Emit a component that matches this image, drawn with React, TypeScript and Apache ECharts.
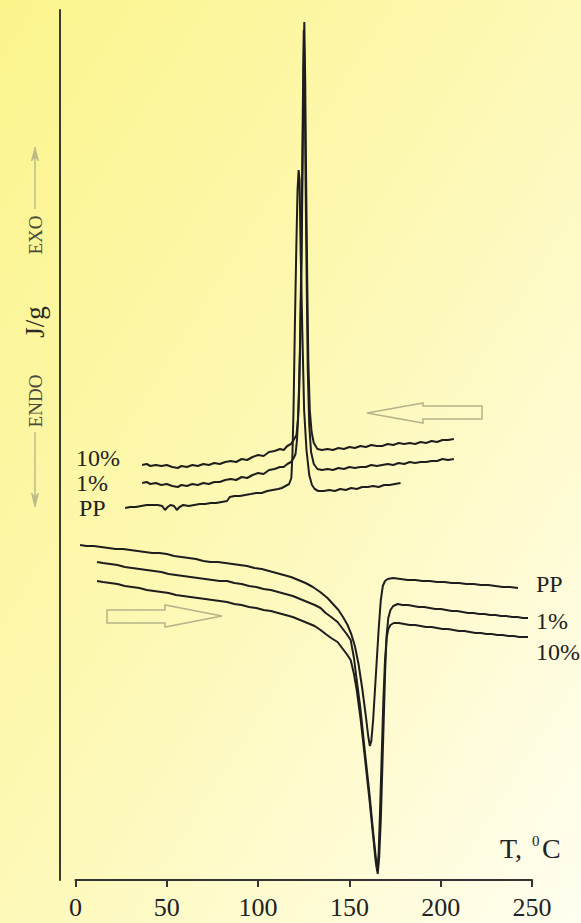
import React, { useEffect, useRef } from "react";
import * as echarts from "echarts";

// Temperature axis ticks (°C)
const tempTicks = [0, 50, 100, 150, 200, 250];

// Cooling runs (crystallisation exotherms), [T °C, heat flow a.u.]
const cool10: number[][] = [[36.5,415],[39,416],[41,414],[44,415],[47,414],[50,415],[53,413],[56,412],[58,414],[61,413],[64,415],[67,414],[70,416],[73,415],[76,417],[79,416],[82,418],[85,419],[88,418],[91,421],[94,420],[97,423],[100,425],[103,424],[106,428],[109,429],[112,431],[114,430],[116,434],[118,436],[119.5,440],[121,445],[121.8,460],[122.5,490],[123.2,550],[123.8,620],[124.4,720],[124.9,810],[125.3,858],[125.8,800],[126.3,700],[126.9,600],[127.5,520],[128.3,470],[129.3,448],[130.5,437],[132.5,431],[135,430],[138,431],[141,430],[144,432],[147,431],[150,433],[153,432],[156,434],[159,433],[162,435],[165,434],[168,434],[171,436],[174,435],[177,437],[180,436],[183,437],[186,436],[189,438],[192,437],[195,439],[198,438],[201,440],[204,440],[207.2,441]];
const cool1: number[][] = [[36.5,397],[39,398],[41,396],[44,397],[47,395],[50,396],[53,394],[56,393],[58,395],[61,394],[64,396],[67,395],[70,397],[73,396],[76,398],[79,398],[82,400],[85,401],[88,400],[91,403],[94,402],[97,405],[100,407],[103,406],[106,410],[109,411],[112,413],[114,413],[116,416],[118,418],[119.5,422],[120.5,426],[121.3,440],[122.1,470],[122.9,530],[123.5,600],[124.1,700],[124.6,790],[125,850],[125.5,800],[126,700],[126.6,600],[127.2,510],[128,455],[129,428],[130.5,416],[132.5,411],[135,410],[138,411],[141,410],[144,412],[147,411],[150,413],[153,412],[156,413],[159,413],[162,415],[165,414],[168,415],[171,416],[174,415],[177,417],[180,416],[183,418],[186,417],[189,418],[192,418],[195,419],[198,419],[201,421],[204,420],[207.2,421]];
const coolPP: number[][] = [[27.2,372],[30,373],[33,373],[36,374],[39,375],[42,375],[45,375],[47.5,374],[49,370],[50.5,373],[52,375],[54,374],[55.5,370],[57,373],[59,375],[62,374],[65,375],[68,376],[71,376],[74,377],[77,377],[80,378],[83,379],[84.5,383],[87,384],[90,384],[93,385],[96,386],[99,387],[102,387],[105,389],[108,390],[111,391],[113,392],[115,394],[117,396],[118.2,402],[118.8,425],[119.4,470],[120.1,550],[120.9,630],[121.6,690],[122.2,710],[122.7,700],[123.3,630],[124.2,550],[125.2,470],[126.5,430],[128,405],[129.5,395],[131,391],[133,389],[136,389],[139,390],[142,389],[145,391],[148,390],[151,392],[154,391],[157,393],[160,393],[163,394],[166,393],[169,395],[172,395],[175,396],[178,397]];

// Heating runs (melting endotherms)
const heatPP: number[][] = [[2.5,335],[6,334],[10,334],[14,333],[18,332],[22,331],[26,331],[30,330],[34,329],[38,328],[42,327],[46,327],[50,326],[54,324],[58,323],[62,322],[66,321],[70,319],[74,318],[78,318],[82,317],[86,316],[90,315],[94,314],[98,312],[102,311],[106,309],[110,307],[114,305],[118,303],[122,300],[126,297],[130,293],[134,288],[138,282],[141,276],[144,270],[146.5,263],[149,255],[151,246],[153,234],[155,216],[157,192],[159,164],[160.3,144],[161.2,134],[162,139],[163,160],[164.5,205],[166,250],[167.2,280],[168.3,294],[169.5,299],[171,301],[174,302],[178,301],[182,300],[186,300],[190,299],[194,299],[198,298],[202,298],[206,297],[210,297],[214,296],[218,296],[222,295],[226,295],[230,294],[234,293],[238,293],[242.3,292]];
const heat1: number[][] = [[11.8,318],[15,317],[19,316],[23,315],[27,313],[31,312],[35,311],[39,310],[43,309],[47,308],[51,306],[55,305],[59,304],[63,303],[67,302],[71,301],[75,300],[79,299],[83,299],[87,297],[91,296],[95,294],[99,293],[103,291],[107,290],[111,288],[115,286],[119,284],[123,281],[127,278],[131,275],[134.2,272],[137,267],[140,263],[143.5,258],[146,252],[148.5,246],[150.7,240],[152.5,222],[154,200],[156,172],[158.5,128],[161,86],[163,48],[164.5,22],[165.5,6],[166.3,22],[167.2,60],[168,110],[168.8,160],[169.6,210],[170.4,245],[171.3,262],[172.5,270],[174,274],[176.5,276],[179,275],[182,275],[185,274],[188,273],[191,273],[194,272],[197,271],[200,271],[203,270],[206,269],[209,269],[212,268],[215,267],[218,267],[221,266],[224,266],[227,265],[230,265],[233,264],[236,264],[239,263],[242,263],[245,262],[247.8,262]];
const heat10: number[][] = [[11.8,299],[15,298],[19,297],[23,296],[27,294],[31,293],[35,292],[39,290],[43,289],[47,288],[51,287],[55,285],[59,284],[63,283],[67,282],[71,281],[75,280],[79,279],[83,278],[87,276],[91,275],[95,273],[99,272],[103,270],[107,269],[111,267],[115,265],[119,263],[123,260],[127,257],[131,254],[134.2,250],[137,246],[140,242],[143.5,238],[146,232],[148.5,226],[150.7,220],[152.5,206],[154,190],[156,163],[158.5,122],[161,80],[163,44],[164.3,20],[165.2,9],[166,26],[166.8,70],[167.7,125],[168.6,180],[169.5,220],[170.4,242],[171.3,251],[172.5,255],[174.3,257],[177,257],[180,256],[183,255],[186,255],[189,254],[192,253],[195,253],[198,252],[201,251],[204,251],[207,250],[210,249],[213,249],[216,248],[219,247],[222,247],[225,246],[228,246],[231,245],[234,245],[237,244],[240,244],[243,243],[247.8,243]];

const curveNames = ["10%", "1%", "PP"];

const SERIF = "'Liberation Serif', 'DejaVu Serif', serif";
const INK = "#1e1e1e";
const PALE = "#bdbb8a";

export default function App() {
  const ref = useRef<HTMLDivElement>(null);
  useEffect(() => {
    if (!ref.current) return;
    const chart = echarts.init(ref.current, null, { renderer: "svg" });
    const mk = (name: string, data: number[][]) => ({
      name,
      type: "line",
      data,
      symbol: "none",
      smooth: false,
      lineStyle: { color: INK, width: 2 },
      silent: true,
    });
    const txt = (text: string, x: number, y: number, size: number, extra: any = {}) => ({
      type: "text",
      x,
      y,
      silent: true,
      style: {
        text,
        font: `${size}px ${SERIF}`,
        fill: extra.fill || "#222",
        textAlign: extra.align || "left",
        textVerticalAlign: "middle",
      },
      rotation: extra.rotation || 0,
    });
    chart.setOption({
      animation: false,
      backgroundColor: {
        type: "linear",
        x: 0,
        y: 0,
        x2: 1,
        y2: 1,
        colorStops: [
          { offset: 0, color: "#fbf48c" },
          { offset: 0.45, color: "#fdf8b2" },
          { offset: 1, color: "#fffef0" },
        ],
      },
      grid: { left: 75.5, right: 49, top: 10, bottom: 43 },
      xAxis: {
        type: "value",
        min: tempTicks[0],
        max: tempTicks[tempTicks.length - 1],
        interval: 50,
        axisLine: { show: true, onZero: false, lineStyle: { color: "#333", width: 2 } },
        axisTick: { show: true, length: 7, lineStyle: { color: "#333", width: 2 } },
        axisLabel: { fontSize: 26, fontFamily: SERIF, color: "#222", margin: 14 },
        splitLine: { show: false },
      },
      yAxis: {
        type: "value",
        min: 0,
        max: 870,
        offset: 15.5,
        axisLine: { show: true, onZero: false, lineStyle: { color: "#3a3a2a", width: 2 } },
        axisTick: { show: false },
        axisLabel: { show: false },
        splitLine: { show: false },
      },
      series: [
        mk("cool 10%", cool10),
        mk("cool 1%", cool1),
        mk("cool PP", coolPP),
        mk("heat PP", heatPP),
        mk("heat 1%", heat1),
        mk("heat 10%", heat10),
      ],
      graphic: [
        // curve labels (cooling, left)
        txt(curveNames[0], 76, 458, 24),
        txt(curveNames[1], 76, 483, 24),
        txt(curveNames[2], 79, 508, 24),
        // curve labels (heating, right)
        txt(curveNames[2], 536, 584, 24),
        txt(curveNames[1], 536, 621, 24),
        txt(curveNames[0], 536, 652, 24),
        // axis title
        txt("T,", 500, 848, 28),
        txt("0", 532, 841, 15),
        txt("C", 542, 848, 28),
        // vertical y labels
        txt("EXO", 35, 235, 19, { rotation: Math.PI / 2, align: "center", fill: "#4a4a3a" }),
        txt("J/g", 35, 322, 27, { rotation: Math.PI / 2, align: "center", fill: "#2a2a22" }),
        txt("ENDO", 35, 401, 19, { rotation: Math.PI / 2, align: "center", fill: "#4a4a3a" }),
        // EXO / ENDO arrows
        { type: "line", silent: true, shape: { x1: 35, y1: 209, x2: 35, y2: 154 }, style: { stroke: PALE, lineWidth: 1.5 } },
        { type: "polygon", silent: true, shape: { points: [[35, 147], [31.5, 161], [35, 157], [38.5, 161]] }, style: { fill: PALE, stroke: PALE, lineWidth: 1 } },
        { type: "line", silent: true, shape: { x1: 35, y1: 432, x2: 35, y2: 500 }, style: { stroke: PALE, lineWidth: 1.5 } },
        { type: "polygon", silent: true, shape: { points: [[35, 507], [31.5, 493], [35, 497], [38.5, 493]] }, style: { fill: PALE, stroke: PALE, lineWidth: 1 } },
        // hollow direction arrows
        { type: "polygon", silent: true, shape: { points: [[367, 413], [423, 403], [423, 406], [482, 406], [482, 419], [423, 419], [423, 423]] }, style: { fill: "none", stroke: "#b5b38a", lineWidth: 1.5 } },
        { type: "polygon", silent: true, shape: { points: [[107, 610], [165, 610], [165, 605], [222, 616], [165, 627], [165, 623], [107, 623]] }, style: { fill: "none", stroke: "#b5b38a", lineWidth: 1.5 } },
      ],
    });
    return () => chart.dispose();
  }, []);
  return (
    <div
      ref={ref}
      style={{ position: "fixed", left: 0, top: 0, width: 581, height: 923 }}
    />
  );
}
